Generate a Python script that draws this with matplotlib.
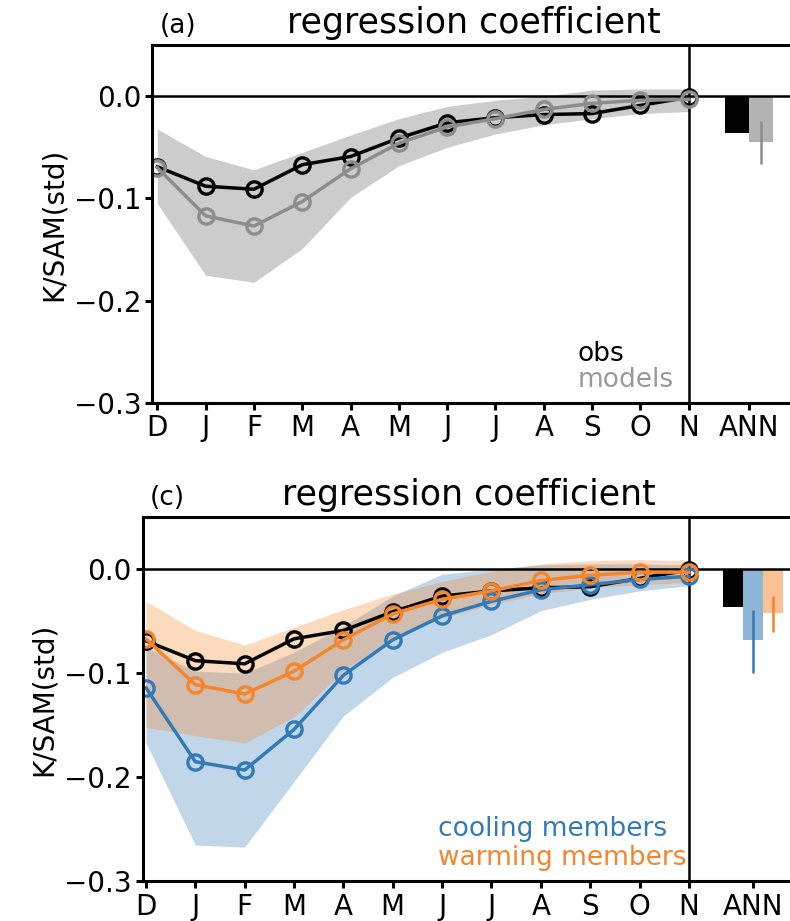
import matplotlib
matplotlib.use("Agg")
import matplotlib.pyplot as plt
import numpy as np

months = ["D", "J", "F", "M", "A", "M", "J", "J", "A", "S", "O", "N"]

# observed regression coefficient (both panels)
obs = [-0.069, -0.088, -0.091, -0.067, -0.059, -0.041, -0.026, -0.021, -0.018, -0.017, -0.009, -0.001]

# panel (a): model mean and spread
models = [-0.070, -0.117, -0.127, -0.103, -0.071, -0.046, -0.030, -0.022, -0.013, -0.007, -0.004, -0.003]
models_hi = [-0.032, -0.059, -0.072, -0.055, -0.038, -0.022, -0.010, -0.004, 0.000, 0.006, 0.007, 0.007]
models_lo = [-0.105, -0.175, -0.182, -0.149, -0.099, -0.068, -0.050, -0.037, -0.028, -0.022, -0.017, -0.015]

# panel (c): cooling / warming members
cooling = [-0.114, -0.185, -0.193, -0.154, -0.102, -0.068, -0.045, -0.031, -0.020, -0.015, -0.010, -0.007]
cooling_hi = [-0.075, -0.098, -0.100, -0.080, -0.055, -0.026, -0.005, 0.000, 0.004, 0.005, 0.005, 0.004]
cooling_lo = [-0.167, -0.265, -0.267, -0.204, -0.141, -0.104, -0.080, -0.063, -0.040, -0.029, -0.021, -0.016]
warming = [-0.067, -0.111, -0.120, -0.098, -0.068, -0.043, -0.029, -0.021, -0.011, -0.006, -0.003, -0.003]
warming_hi = [-0.031, -0.059, -0.073, -0.056, -0.039, -0.024, -0.012, -0.002, 0.005, 0.008, 0.009, 0.008]
warming_lo = [-0.152, -0.160, -0.167, -0.142, -0.098, -0.066, -0.047, -0.034, -0.024, -0.018, -0.015, -0.013]

# annual means (bars) and ranges (whiskers)
ann_a = [-0.036, -0.045]
ann_a_err = [(-0.066, -0.024)]
ann_c = [-0.036, -0.068, -0.042]
ann_c_err = [(-0.100, -0.039), (-0.060, -0.026)]

BLUE = "#3279b8"
ORANGE = "#f5852a"

plt.rcParams["font.family"] = "DejaVu Sans"
plt.rcParams["axes.linewidth"] = 2.2
plt.rcParams["xtick.major.width"] = 2.2
plt.rcParams["ytick.major.width"] = 2.2
plt.rcParams["xtick.major.size"] = 5
plt.rcParams["ytick.major.size"] = 5

fig = plt.figure(figsize=(7.9, 9.21), dpi=100)
ax1 = fig.add_axes([0.193, 0.5624, 0.814, 0.3887])
ax2 = fig.add_axes([0.1804, 0.0429, 0.8253, 0.3958])

x = np.arange(len(months))
line_kw = dict(lw=2.5, marker="o", ms=11, mfc="none", mew=2.4)


def setup(ax, label, xlim, ann_x):
    ax.axhline(0, color="k", lw=1.8, zorder=1)
    ax.axvline(11, color="k", lw=1.8, zorder=1)
    ax.spines["right"].set_visible(False)
    ax.set_xlim(*xlim)
    ax.set_ylim(-0.3, 0.05)
    ax.set_yticks([-0.3, -0.2, -0.1, 0.0])
    ax.set_xticks(list(x) + [ann_x])
    ax.set_xticklabels(months + ["ANN"])
    ax.tick_params(labelsize=20, pad=3)
    ax.set_ylabel("K/SAM(std)", fontsize=20)
    ax.set_title("regression coefficient", fontsize=25, pad=8.6)
    ax.annotate(label, xy=(0, 1), xycoords="axes fraction", xytext=(5, 8.6),
                textcoords="offset points", ha="left", va="baseline", fontsize=19)


# ---- panel (a)
ax1.fill_between(x, models_lo, models_hi, color="gray", alpha=0.4, lw=0)
ax1.plot(x, obs, color="k", **line_kw)
ax1.plot(x, models, color="#8c8c8c", **line_kw)
ax1.bar(12.0, ann_a[0], width=0.5, color="k")
ax1.bar(12.5, ann_a[1], width=0.5, color="#b3b3b3")
ax1.vlines(12.5, ann_a_err[0][0], ann_a_err[0][1], color="#8c8c8c", lw=1.8)
ax1.text(0.661, 0.117, "obs", transform=ax1.transAxes, fontsize=19, color="k", va="baseline")
ax1.text(0.661, 0.0455, "models", transform=ax1.transAxes, fontsize=19, color="#999999", va="baseline")
setup(ax1, "(a)", (-0.1, 13.21), 12.25)

# ---- panel (c)
ax2.fill_between(x, cooling_lo, cooling_hi, color=BLUE, alpha=0.3, lw=0)
ax2.fill_between(x, warming_lo, warming_hi, color=ORANGE, alpha=0.3, lw=0)
ax2.plot(x, obs, color="k", **line_kw)
ax2.plot(x, cooling, color=BLUE, **line_kw)
ax2.plot(x, warming, color=ORANGE, **line_kw)
ax2.bar(11.9, ann_c[0], width=0.4, color="k")
ax2.bar(12.3, ann_c[1], width=0.4, color=BLUE, alpha=0.55, lw=0)
ax2.bar(12.7, ann_c[2], width=0.4, color=ORANGE, alpha=0.5, lw=0)
ax2.vlines(12.3, ann_c_err[0][0], ann_c_err[0][1], color=BLUE, lw=1.8)
ax2.vlines(12.7, ann_c_err[1][0], ann_c_err[1][1], color=ORANGE, lw=1.8)
ax2.text(0.453, 0.125, "cooling members", transform=ax2.transAxes, fontsize=19, color=BLUE, va="baseline")
ax2.text(0.453, 0.045, "warming members", transform=ax2.transAxes, fontsize=19, color=ORANGE, va="baseline")
setup(ax2, "(c)", (-0.07, 13.14), 12.3)

fig.savefig("out.png", dpi=100)
